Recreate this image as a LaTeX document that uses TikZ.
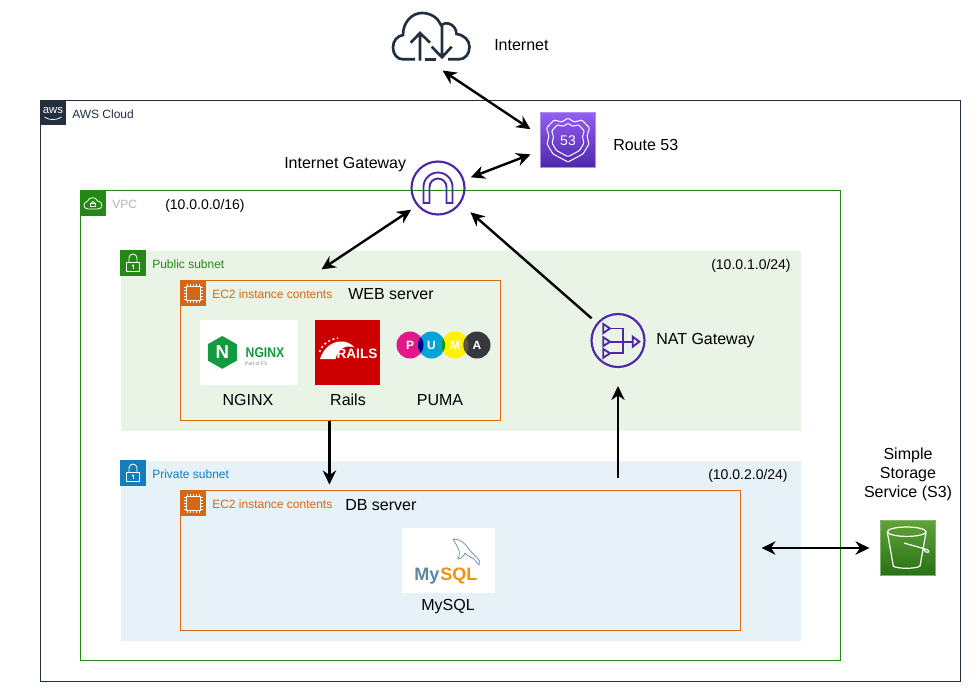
\documentclass[tikz,border=0pt]{standalone}
\usepackage{fontspec}
\setmainfont{Liberation Sans}
\usetikzlibrary{arrows.meta}
\def\pxu{.75pt}
\definecolor{awsdark}{HTML}{232F3E}
\definecolor{vpcgreen}{HTML}{248814}
\definecolor{vpcgrey}{HTML}{AAB7B8}
\definecolor{pubfill}{HTML}{E9F3E6}
\definecolor{privfill}{HTML}{E6F2F8}
\definecolor{privblue}{HTML}{147EBA}
\definecolor{ecorange}{HTML}{D86613}
\definecolor{gwpurple}{HTML}{4D27AA}
\definecolor{rtfedge}{HTML}{B08EF0}
\definecolor{rtftop}{HTML}{945DF2}
\definecolor{rtfbottom}{HTML}{4E28AA}
\definecolor{sthreeedge}{HTML}{82B46E}
\definecolor{sthreetop}{HTML}{60A337}
\definecolor{sthreebottom}{HTML}{277116}
\definecolor{nginxgreen}{HTML}{129A40}
\definecolor{railsred}{HTML}{CC0000}
\definecolor{mysqlblue}{HTML}{5D87A1}
\definecolor{mysqlorange}{HTML}{F29111}
\definecolor{pumapink}{HTML}{E0188A}
\definecolor{pumablue}{HTML}{00A4D8}
\definecolor{pumayellow}{HTML}{FFF200}
\definecolor{pumagrey}{HTML}{38373F}
\tikzset{
    panel/.style n args={2}{draw, inner sep=0, outer sep=0, minimum width=#1*\pxu, minimum height=#2*\pxu},
    iconbox/.style={inner sep=0, outer sep=0, minimum size=25.5*\pxu},
    logobox/.style n args={2}{fill=white, inner sep=0, outer sep=0, minimum width=#1*\pxu, minimum height=#2*\pxu},
    big/.style={inner sep=0, font=\fontsize{12}{14}\selectfont},
    mid/.style={inner sep=0, font=\fontsize{10.5}{12}\selectfont},
    small/.style={inner sep=0, font=\fontsize{9}{11}\selectfont},
    flow/.style={line width=1.8pt},
    gwring/.style={circle, draw=gwpurple, line width=1.6pt, inner sep=0, minimum size=53*\pxu, outer sep=8*\pxu},
}
\begin{document}
\begin{tikzpicture}[>={Stealth[length=10.5pt,width=10pt]}, x=.75pt, y=-.75pt]
    \useasboundingbox (0,0) rectangle (980,690);

    % containers
    \node[panel={920}{581}, draw=awsdark, line width=.75pt] (cloudbox) at (500.5,390.5) {};
    \node[panel={760}{470}, draw=vpcgreen, line width=.75pt] (vpcbox) at (460.5,425.5) {};
    \node[panel={680}{180}, draw=none, fill=pubfill] (pubbox) at (460.5,340.5) {};
    \node[panel={680}{180}, draw=none, fill=privfill] (privbox) at (460.5,550.5) {};
    \node[panel={320}{140}, draw=ecorange, line width=.75pt] (webbox) at (340.5,350.5) {};
    \node[panel={560}{140}, draw=ecorange, line width=.75pt] (dbbox) at (460.5,560.5) {};

    % corner icons
    \node[iconbox, fill=awsdark] (awsicon) at (53,112.5) {};
    \node[inner sep=0, text=white, font=\fontsize{8.5}{9}\selectfont] (awsmark) at (53,110) {aws};
    \draw[white, line width=.6pt] (44.5,117) .. controls (49,120.5) and (57,120.5) .. (61.5,117);
    \node[iconbox, fill=vpcgreen] (vpcicon) at (93,203) {};
    \node[iconbox, fill=vpcgreen] (pubicon) at (133,263) {};
    \node[iconbox, fill=privblue] (privicon) at (133,473) {};
    \node[iconbox, fill=ecorange] (webicon) at (193,293) {};
    \node[iconbox, fill=ecorange] (dbicon) at (193,503) {};

    % cloud and lock of the VPC
    \draw[white, line width=.6pt] (88,209) .. controls (85,209) and (84,207) .. (84,205) .. controls (84,202.5) and (86,201.5) .. (87.5,201.5)
        .. controls (88,197) and (96,196) .. (97.5,201) .. controls (100,201) and (102,203) .. (102,205) .. controls (102,207.5) and (100,209) .. (98,209) -- cycle;
    \draw[white, line width=.5pt] (90.5,203) rectangle (95.5,206.5);
    \draw[white, line width=.5pt] (91.3,203) arc (180:360:1.7);

    % subnet locks
    \foreach \y in {263,473}
    {
        \draw[white, line width=.65pt] (126.5,\y-1) rectangle (139.7,\y+8.2);
        \draw[white, line width=.65pt] (129,\y-1) -- (129,\y-5) arc (180:360:4) -- (137,\y-1);
        \fill[white] (133,\y+2.5) circle (1.2);
        \draw[white, line width=.5pt] (133,\y+2.5) -- (133,\y+5.8);
    }

    % EC2 chips
    \foreach \y in {293,503}
    {
        \draw[white, line width=.7pt] (186,\y-7) rectangle (200,\y+7);
        \foreach \d in {-6,-3,...,6}
        {
            \draw[white, line width=.35pt] (193+\d,\y-7) -- (193+\d,\y-9.5);
            \draw[white, line width=.35pt] (193+\d,\y+7) -- (193+\d,\y+9.5);
            \draw[white, line width=.35pt] (186,\y+\d) -- (183.5,\y+\d);
            \draw[white, line width=.35pt] (200,\y+\d) -- (202.5,\y+\d);
        }
    }

    % internet cloud
    \node[inner sep=0, minimum width=78*\pxu, minimum height=50*\pxu, outer sep=9*\pxu] (inet) at (431.5,36.5) {};
    \draw[awsdark, line width=2pt] (415,59.3) -- (403,59.3) .. controls (397,59.3) and (393,54) .. (393,47.5)
        .. controls (393,41) and (397,36) .. (403,35) .. controls (403,22) and (412,13) .. (422,13)
        .. controls (431,13) and (438,18) .. (441,25) .. controls (446,21) and (456,24) .. (456.5,34)
        .. controls (464,35) and (469.5,40) .. (469.5,47) .. controls (469.5,54) and (465,59.3) .. (459,59.3) -- (448,59.3);
    \draw[awsdark, line width=2pt] (425,59.3) -- (436,59.3);
    \draw[awsdark, line width=2pt] (420,60.5) -- (420,33) (410.7,42.7) -- (420,33) -- (430,42.7);
    \draw[awsdark, line width=2pt] (442,26) -- (442,57.3) (431.7,46.7) -- (442,57.3) -- (451.7,46.7);

    % route 53
    \node[inner sep=0, minimum size=55*\pxu, outer sep=10*\pxu, draw=rtfedge, line width=.6pt, top color=rtftop, bottom color=rtfbottom] (rtf) at (568,140) {};
    \foreach \s in {1,.76}
    {
        \draw[white, line width=.75pt, rounded corners=.8pt, shift={(568,140)}, scale=\s]
            (0,-22) -- (-6,-18) -- (-14,-20) -- (-21.5,-12) -- (-19,-4) -- (-21,4) -- (-15,14) -- (0,22)
            -- (15,14) -- (21,4) -- (19,-4) -- (21.5,-12) -- (14,-20) -- (6,-18) -- cycle;
    }
    \node[inner sep=0, text=white, font=\fontsize{10.5}{12}\selectfont] (rtfnum) at (568,140.5) {53};

    % gateways
    \node[gwring] (igw) at (438,188) {};
    \draw[gwpurple, line width=1.4pt] (423.5,203) -- (423.5,187) arc (180:360:14.5) -- (452.5,203) -- (446.5,203)
        -- (446.5,187) arc (360:180:8.5) -- (429.5,203) -- cycle;
    \node[gwring] (nat) at (618,340.5) {};
    \draw[gwpurple, line width=1.4pt] (603.3,324) -- (610,328.5) -- (603.3,333) -- cycle;
    \draw[gwpurple, line width=1.4pt] (603.3,337.3) -- (610,341.7) -- (603.3,346) -- cycle;
    \draw[gwpurple, line width=1.4pt] (603.3,349) -- (610,353.3) -- (603.3,357.7) -- cycle;
    \draw[gwpurple, line width=1.4pt] (610,328.5) -- (622.7,328.5) -- (622.7,353.3) -- (610,353.3) (610,341.7) -- (632,341.7);
    \draw[gwpurple, line width=1.4pt] (632.7,336.7) -- (639.3,341.7) -- (632.7,346.7) -- cycle;

    % s3
    \node[inner sep=0, minimum size=55*\pxu, outer sep=11*\pxu, draw=sthreeedge, line width=.6pt, top color=sthreetop, bottom color=sthreebottom] (sthree) at (908,548) {};
    \draw[white, line width=.9pt] (906.7,531.7) ellipse (19.3 and 4.7);
    \draw[white, line width=.9pt] (887.4,532.5) -- (893.3,566) .. controls (896,569) and (917,569) .. (920,566) -- (926,532.5);
    \draw[white, line width=.9pt] (905,543.3) -- (927,549.5) .. controls (930,551) and (929,553) .. (926,552) -- (923.5,549.5);
    \fill[white] (905,543.3) circle (1);

    % nginx logo
    \node[logobox={98}{65}] (nginxbox) at (249,352.5) {};
    \fill[nginxgreen] (222.3,336) -- (236.8,344.2) -- (236.8,360.6) -- (222.3,368.8) -- (207.8,360.6) -- (207.8,344.2) -- cycle;
    \node[inner sep=0, text=white, font=\bfseries\fontsize{14}{15}\selectfont] (nginxn) at (222.3,352.4) {N};
    \node[inner sep=0, xscale=.87, text=nginxgreen, font=\bfseries\fontsize{10.5}{12}\selectfont] (nginxword) at (265,352.5) {NGINX};
    \node[inner sep=0, text=black!45, font=\fontsize{3.8}{4}\selectfont] (nginxpart) at (256,364) {Part of F5};

    % rails logo
    \node[panel={65}{65}, draw=none, fill=railsred] (railsbox) at (347.5,352.5) {};
    \fill[white] (320,359) .. controls (323,349) and (331,342) .. (340,341.5) .. controls (346,341) and (351,343.5) .. (354.5,347.5)
        .. controls (346,344.5) and (338,348) .. (335.5,359) -- cycle;
    \draw[white, line width=1.2pt, dash pattern=on 1.5pt off 2pt] (319.5,352) .. controls (322,344.5) and (329,339.5) .. (338,338);
    \node[inner sep=0, text=white, font=\bfseries\fontsize{10.2}{12}\selectfont] (railsword) at (357,354) {RAILS};

    % puma logo
    \fill[pumapink] (410,345) circle (13.5);
    \fill[pumablue] (431.5,345) circle (13.5);
    \fill[pumayellow] (455,345) circle (13.5);
    \fill[pumagrey] (477,345) circle (13.5);
    \foreach \xa/\xb/\ca in {410/431.5/blue!55!black, 431.5/455/green!60!black, 455/477/black!75!yellow}
    {
        \begin{scope}
            \clip (\xa,345) circle (13.5);
            \fill[\ca] (\xb,345) circle (13.5);
        \end{scope}
    }
    \foreach \lt/\lx in {P/410, U/431.5, M/455, A/477}
    {
        \node[inner sep=0, text=white, font=\bfseries\fontsize{9}{10}\selectfont] (puma\lt) at (\lx,345.5) {\lt};
    }

    % mysql logo
    \node[logobox={93}{65}] (mysqlbox) at (448.5,560.5) {};
    \node[anchor=base west, inner sep=0, text=mysqlblue, font=\bfseries\fontsize{13.5}{16}\selectfont] (mysqlmy) at (414,580) {My};
    \node[anchor=base west, inner sep=0, text=mysqlorange, font=\bfseries\fontsize{13.5}{16}\selectfont] (mysqlsq) at (440,580) {SQL};
    \draw[mysqlblue, line width=.5pt] (453,539) .. controls (460,539) and (465,543) .. (469,549)
        .. controls (472,554) and (477,556) .. (479.5,561) -- (479,565) -- (474,559) .. controls (471,557) and (467,556) .. (465,553)
        .. controls (464,556) and (461,559) .. (458,559) .. controls (460,555) and (460,550) .. (457,546) -- (453,539);

    % texts
    \node[small, anchor=west, text=awsdark] (awslabel) at (72,114) {AWS Cloud};
    \node[small, anchor=west, text=vpcgrey] (vpclabel) at (112,204) {VPC};
    \node[mid, anchor=west] (vpccidr) at (165,206) {(10.0.0.0/16)};
    \node[big, anchor=west] (inetlabel) at (494,45) {Internet};
    \node[big, anchor=west] (rtflabel) at (613,144.5) {Route 53};
    \node[big, anchor=west] (igwlabel) at (284,165) {Internet Gateway};
    \node[small, anchor=west, text=vpcgreen] (publabel) at (152,264) {Public subnet};
    \node[mid, anchor=west] (pubcidr) at (711,266) {(10.0.1.0/24)};
    \node[small, anchor=west, text=ecorange] (weblabel) at (212,294) {EC2 instance contents};
    \node[big, anchor=west] (webname) at (348,294) {WEB server};
    \node[big] (nginxlabel) at (248,400) {NGINX};
    \node[big] (railslabel) at (348,400) {Rails};
    \node[big] (pumalabel) at (440,400) {PUMA};
    \node[big, anchor=west] (natlabel) at (656,341) {NAT Gateway};
    \node[small, anchor=west, text=privblue] (privlabel) at (152,474) {Private subnet};
    \node[mid, anchor=west] (privcidr) at (708,476) {(10.0.2.0/24)};
    \node[small, anchor=west, text=ecorange] (dblabel) at (212,504) {EC2 instance contents};
    \node[big, anchor=west] (dbname) at (345,505) {DB server};
    \node[big] (mysqllabel) at (448,607) {MySQL};
    \node[big, align=center, font=\fontsize{12}{14.25}\selectfont] (sthreelabel) at (908,474) {Simple\\Storage\\Service (S3)};

    % connections
    \draw[<->, flow] (inet.-72.6) -- (rtf.164);
    \draw[<->, flow] (rtf.201) -- (igw.18);
    \draw[<->, flow, shorten >=20*\pxu] (igw.219) -- (webbox.117);
    \draw[->, flow, shorten >=6*\pxu] (nat.140) -- (igw.-36);
    \draw[->, flow, shorten >=6*\pxu] (webbox.261.4) -- (webbox.261.4 |- dbbox.north);
    \draw[->, flow, shorten <=13*\pxu, shorten >=11*\pxu] (dbbox.north -| nat.south) -- (nat.south);
    \draw[<->, flow, shorten <=21*\pxu] (dbbox.east |- sthree.west) -- (sthree.west);

\end{tikzpicture}
\end{document}
